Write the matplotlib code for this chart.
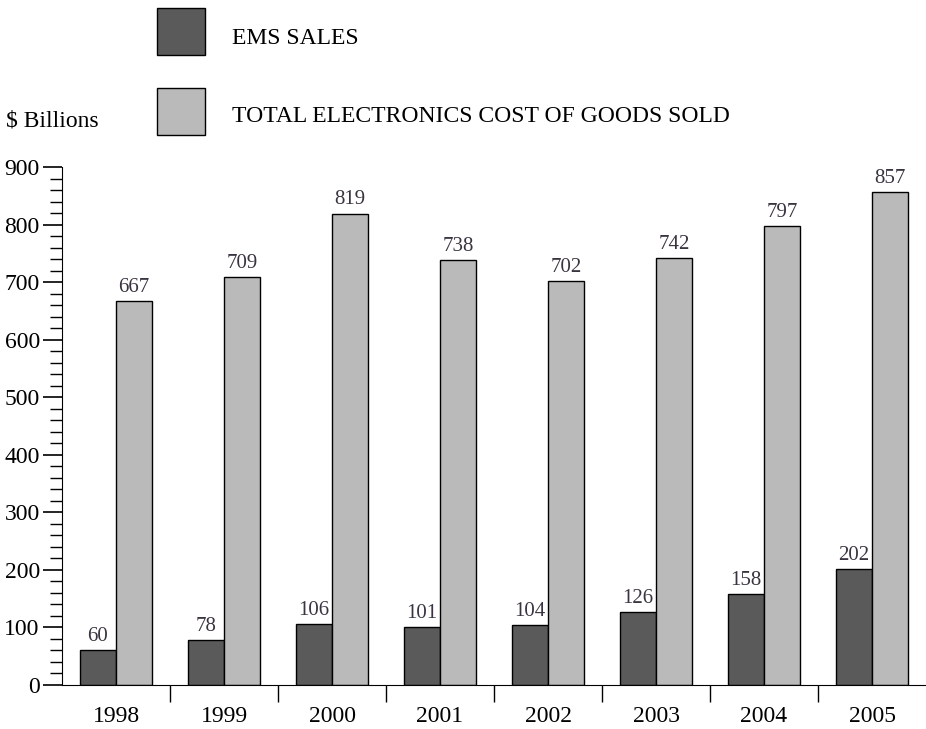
import matplotlib
matplotlib.use("Agg")
import matplotlib.pyplot as plt
from matplotlib.patches import Rectangle
from matplotlib.ticker import MultipleLocator, FixedLocator
import numpy as np

years = ["1998", "1999", "2000", "2001", "2002", "2003", "2004", "2005"]
ems_sales = [60, 78, 106, 101, 104, 126, 158, 202]
total_cogs = [667, 709, 819, 738, 702, 742, 797, 857]
series_names = ["EMS SALES", "TOTAL ELECTRONICS COST OF GOODS SOLD"]
dark = "#5a5a5a"
light = "#bababa"
label_color = "#3a3440"

plt.rcParams['font.family'] = ['Liberation Serif', 'DejaVu Serif']

W, H = 926, 729
fig = plt.figure(figsize=(W / 100, H / 100), dpi=100)
ax = fig.add_axes([62 / W, (H - 685) / H, (926 - 62) / W, (685 - 167) / H])

x = np.arange(len(years))
bw = 1 / 3
ax.bar(x - bw / 2, ems_sales, width=bw, color=dark, edgecolor="black", linewidth=1)
ax.bar(x + bw / 2, total_cogs, width=bw, color=light, edgecolor="black", linewidth=1)

for xi, v in zip(x, ems_sales):
    ax.annotate(str(v), (xi - bw / 2, v), xytext=(0, 3), textcoords="offset points",
                ha="center", va="bottom", fontsize=15, color=label_color)
for xi, v in zip(x, total_cogs):
    ax.annotate(str(v), (xi + bw / 2, v), xytext=(0, 3), textcoords="offset points",
                ha="center", va="bottom", fontsize=15, color=label_color)

ax.set_xlim(-0.5, len(years) - 0.5)
ax.set_ylim(0, 900)
ax.spines['top'].set_visible(False)
ax.spines['right'].set_visible(False)
ax.yaxis.set_major_locator(MultipleLocator(100))
ax.yaxis.set_minor_locator(MultipleLocator(20))
ax.tick_params(axis='y', which='major', length=14, width=1.2, labelsize=17, direction='out', pad=2)
ax.tick_params(axis='y', which='minor', length=9, width=1, direction='out')

ax.xaxis.set_major_locator(FixedLocator(x))
ax.set_xticklabels(years)
ax.xaxis.set_minor_locator(FixedLocator(x[1:] - 0.5))
ax.tick_params(axis='x', which='major', length=0, labelsize=17, pad=15)
ax.tick_params(axis='x', which='minor', length=12, width=1, direction='out')

# legend
fig.patches.append(Rectangle((157 / W, 1 - 55 / H), 48 / W, 47 / H, transform=fig.transFigure,
                             facecolor=dark, edgecolor="black", linewidth=1))
fig.patches.append(Rectangle((157 / W, 1 - 135 / H), 48 / W, 47 / H, transform=fig.transFigure,
                             facecolor=light, edgecolor="black", linewidth=1))
fig.text(232 / W, 1 - 38 / H, series_names[0], fontsize=17, va="center", ha="left")
fig.text(232 / W, 1 - 116 / H, series_names[1], fontsize=17, va="center", ha="left")
fig.text(6 / W, 1 - 121 / H, "$ Billions", fontsize=17, va="center", ha="left")

fig.savefig("out.png", dpi=100)
